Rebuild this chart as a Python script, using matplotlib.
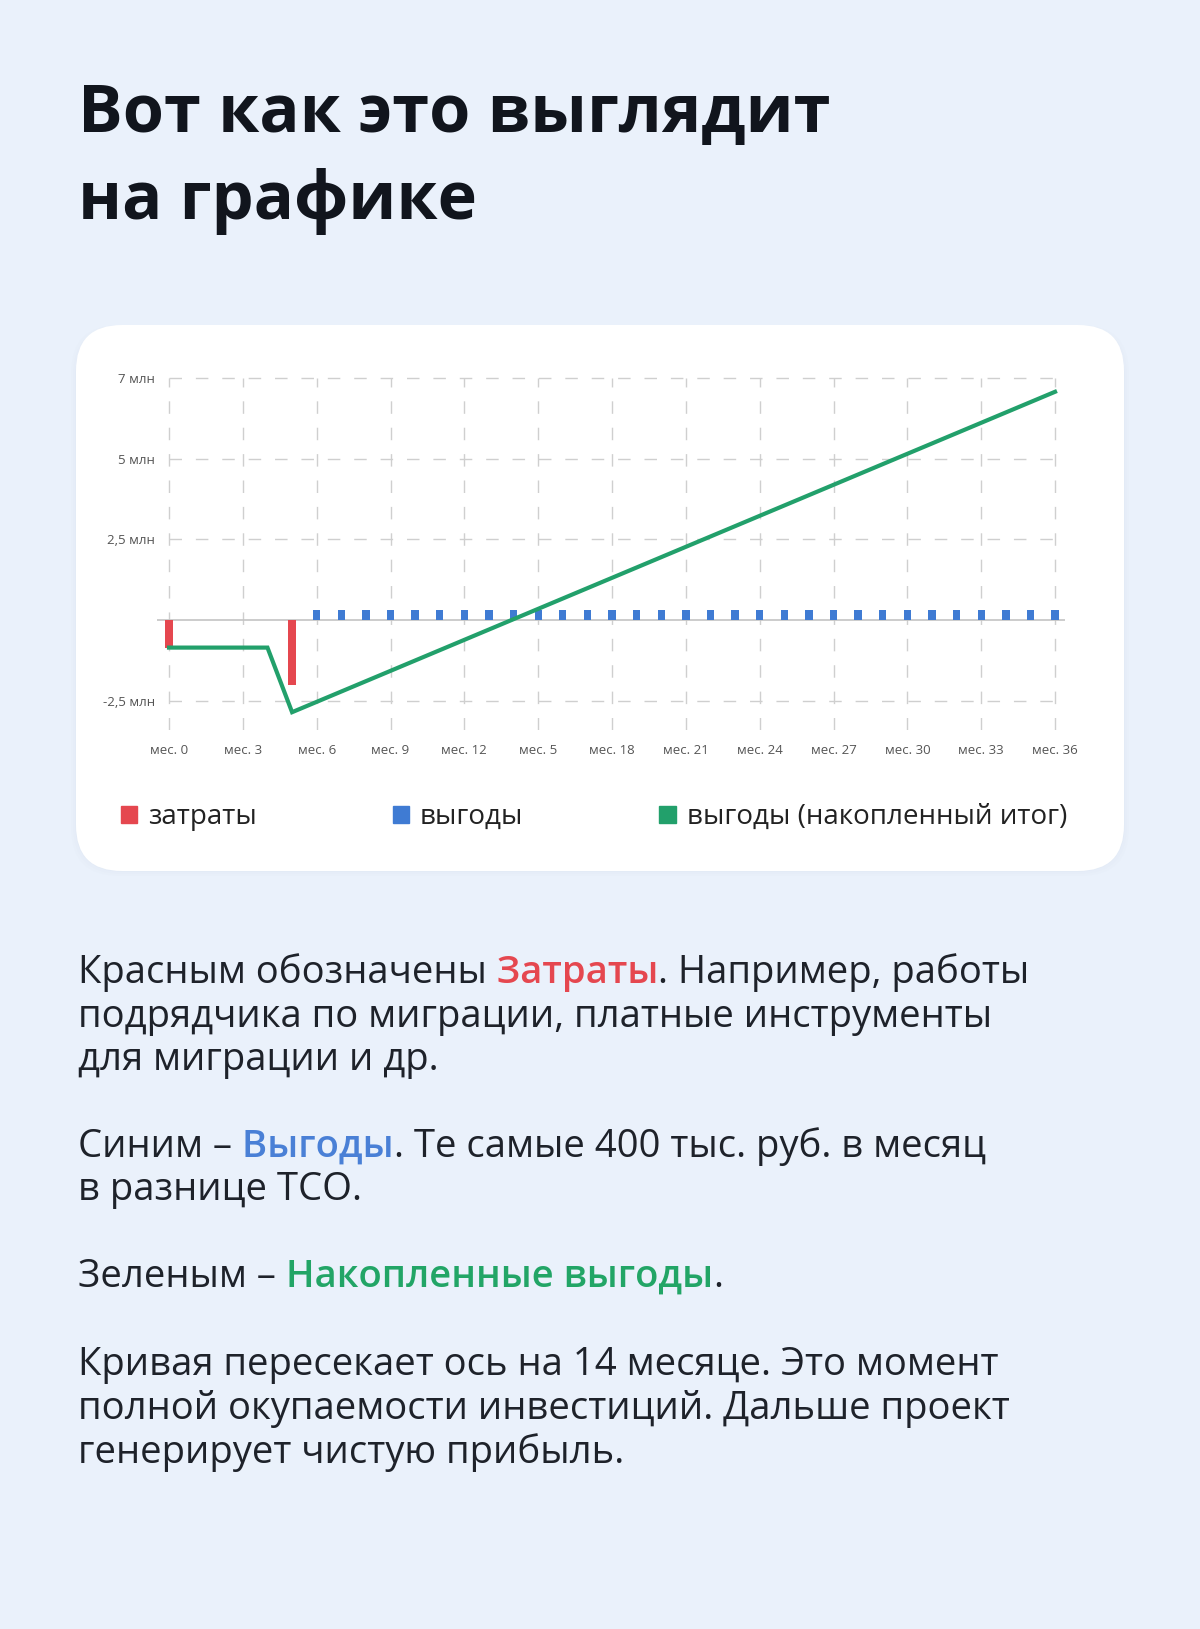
import numpy as np
import matplotlib
matplotlib.use("Agg")
import matplotlib.pyplot as plt
from matplotlib.patches import FancyBboxPatch, Patch

plt.rcParams["font.family"] = ["Open Sans", "DejaVu Sans"]

# данные (млн руб.)
months = np.arange(0, 37)
cost_months = [0, 5]
cost_values = [-0.85, -2.0]
benefit_months = np.arange(6, 37)
benefit_values = [0.32] * 31

tick_months = [0, 3, 6, 9, 12, 15, 18, 21, 24, 27, 30, 33, 36]
tick_labels = ["мес. 0", "мес. 3", "мес. 6", "мес. 9", "мес. 12", "мес. 5", "мес. 18",
               "мес. 21", "мес. 24", "мес. 27", "мес. 30", "мес. 33", "мес. 36"]
y_ticks = [-2.5, 2.5, 5, 7.5]
y_labels = ["-2,5 млн", "2,5 млн", "5 млн", "7 млн"]
legend_labels = ["затраты", "выгоды", "выгоды (накопленный итог)"]

RED = "#E5474F"
BLUE = "#3F7BD3"
GREEN = "#22A06B"
TEXT = "#1E222A"

# накопленный итог
flow = np.zeros(len(months))
flow[cost_months] += cost_values
flow[benefit_months] += benefit_values
cumulative = np.cumsum(flow)

W, H = 1200, 1629
fig = plt.figure(figsize=(W / 100, H / 100), dpi=100)
fig.patch.set_facecolor("#EAF1FB")

# фон в пикселях
bg = fig.add_axes([0, 0, 1, 1])
bg.set_xlim(0, W)
bg.set_ylim(H, 0)
bg.axis("off")
bg.set_zorder(0)

# карточка с тенью
for i, a in enumerate([0.025, 0.025, 0.03]):
    g = 10 - i * 4
    bg.add_patch(FancyBboxPatch((76 - g / 2, 330 - g / 2), 1048 + g, 541 + g,
                                boxstyle="round,pad=0,rounding_size=48",
                                fc="#9DB2D0", ec="none", alpha=a))
bg.add_patch(FancyBboxPatch((76, 325), 1048, 546, boxstyle="round,pad=0,rounding_size=46",
                            fc="white", ec="none"))

# заголовок
bg.text(78, 132, "Вот как это выглядит", fontsize=48, fontweight="bold", color="#11151D", va="baseline")
bg.text(78, 219, "на графике", fontsize=48, fontweight="bold", color="#11151D", va="baseline")


def rich_line(y, parts, size=27.5):
    t = bg.text(78, y, parts[0][0], fontsize=size, color=parts[0][1],
                fontweight=parts[0][2], va="baseline")
    for txt, col, w in parts[1:]:
        t = bg.annotate(txt, xy=(1, 0), xycoords=t, va="bottom", ha="left",
                        fontsize=size, color=col, fontweight=w)


N = "normal"
B = "semibold"
rich_line(983, [("Красным обозначены", TEXT, N), (" Затраты", RED, B), (". Например, работы", TEXT, N)])
rich_line(1027, [("подрядчика по миграции, платные инструменты", TEXT, N)])
rich_line(1070, [("для миграции и др.", TEXT, N)])
rich_line(1157, [("Синим –", TEXT, N), (" Выгоды", "#4A80D6", B), (". Те самые 400 тыс. руб. в месяц", TEXT, N)])
rich_line(1200, [("в разнице ТСО.", TEXT, N)])
rich_line(1287, [("Зеленым –", TEXT, N), (" Накопленные выгоды", "#22A566", B), (".", TEXT, N)])
rich_line(1375, [("Кривая пересекает ось на 14 месяце. Это момент", TEXT, N)])
rich_line(1419, [("полной окупаемости инвестиций. Дальше проект", TEXT, N)])
rich_line(1463, [("генерирует чистую прибыль.", TEXT, N)])

# график
ax = fig.add_axes([0.1306, 0.5519, 0.7568, 0.2181])
ax.set_zorder(1)
ax.patch.set_alpha(0)
ax.set_xlim(-0.5, 36.4)
ax.set_ylim(-3.4, 7.6)

ax.vlines(tick_months, -3.4, 7.5, colors="#CFCFCF", linewidth=1, linestyles=(0, (9, 10)), zorder=1)
ax.hlines(y_ticks, 0, 36, colors="#CFCFCF", linewidth=1, linestyles=(0, (9, 10)), zorder=1)
ax.axhline(0, color="#C4C4C4", linewidth=1.2, zorder=2)

ax.bar(cost_months, cost_values, width=0.32, color=RED, zorder=3)
ax.bar(benefit_months, benefit_values, width=0.3, color=BLUE, zorder=3)
ax.plot(months, cumulative, color=GREEN, linewidth=3, solid_joinstyle="miter", zorder=4)

ax.set_xticks(tick_months, tick_labels)
ax.set_yticks(y_ticks, y_labels)
ax.tick_params(length=0, labelsize=9.5, labelcolor="#555555")
ax.tick_params(axis="x", pad=10)
ax.tick_params(axis="y", pad=1)
for s in ax.spines.values():
    s.set_visible(False)

handles = [Patch(color=RED), Patch(color=BLUE), Patch(color=GREEN)]
ax.legend(handles, legend_labels, ncol=3, loc="center left", bbox_to_anchor=(-0.055, -0.245),
          frameon=False, fontsize=20, borderpad=0, handlelength=0.58, handleheight=0.58,
          handletextpad=0.4, columnspacing=4.9, labelcolor="#222222")

fig.savefig("out.png", dpi=100, facecolor=fig.get_facecolor())
